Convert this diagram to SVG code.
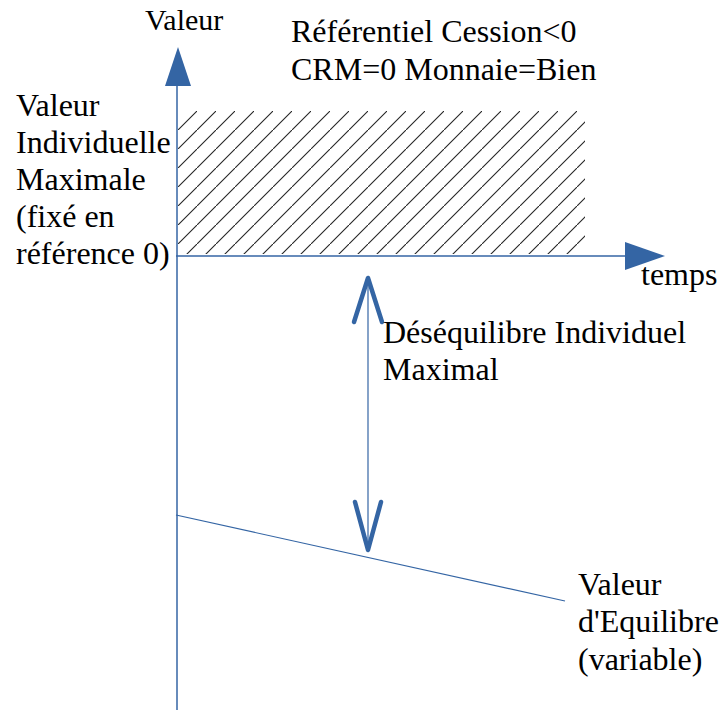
<svg xmlns="http://www.w3.org/2000/svg" width="722" height="711" viewBox="0 0 722 711">
<defs>
<style>
.ax{stroke:#3465a4;stroke-width:1.5;fill:none}
.th{stroke:#3465a4;stroke-width:1.2;fill:none}
.hd{fill:#3465a4;stroke:none}
.chev{stroke:#3465a4;stroke-width:4.5;fill:none;stroke-linecap:round;stroke-linejoin:round}
</style>
<pattern id="hatch" patternUnits="userSpaceOnUse" width="19" height="19" x="178" y="111">
<path d="M-1,20 L20,-1" stroke="#222" stroke-width="1.1"/>
</pattern>
</defs>
<rect width="722" height="711" fill="#fff"/>
<g id="zone">
<rect x="178" y="111" width="407" height="143" fill="url(#hatch)"/>
</g>
<g id="connectors">
<line class="ax" x1="177" y1="710" x2="177" y2="84"/>
<polygon class="hd" points="178,47 165,86 191,86"/>
<line class="ax" x1="176" y1="256" x2="628" y2="256"/>
<polygon class="hd" points="665,256 625,242 625,270"/>
<line class="th" x1="368" y1="282" x2="368" y2="548"/>
<polyline class="chev" points="354,322 368,278 382,322"/>
<polyline class="chev" points="355,502 368,550 381,502"/>
<line class="th" x1="176" y1="515" x2="565" y2="601"/>
</g>
<g id="labels" font-family="'Liberation Serif', Tinos, 'Times New Roman', serif" font-size="32" fill="#000">
<text x="145" y="30" font-size="30">Valeur</text>
<text x="291" y="42">Référentiel Cession&lt;0</text>
<text x="291" y="80">CRM=0 Monnaie=Bien</text>
<text x="16" y="116">Valeur</text>
<text x="16" y="153">Individuelle</text>
<text x="16" y="190">Maximale</text>
<text x="16" y="227">(fixé en</text>
<text x="16" y="264">référence 0)</text>
<text x="641" y="285">temps</text>
<text x="383" y="343">Déséquilibre Individuel</text>
<text x="383" y="380">Maximal</text>
<text x="578" y="595">Valeur</text>
<text x="578" y="632">d'Equilibre</text>
<text x="578" y="670">(variable)</text>
</g>
</svg>
